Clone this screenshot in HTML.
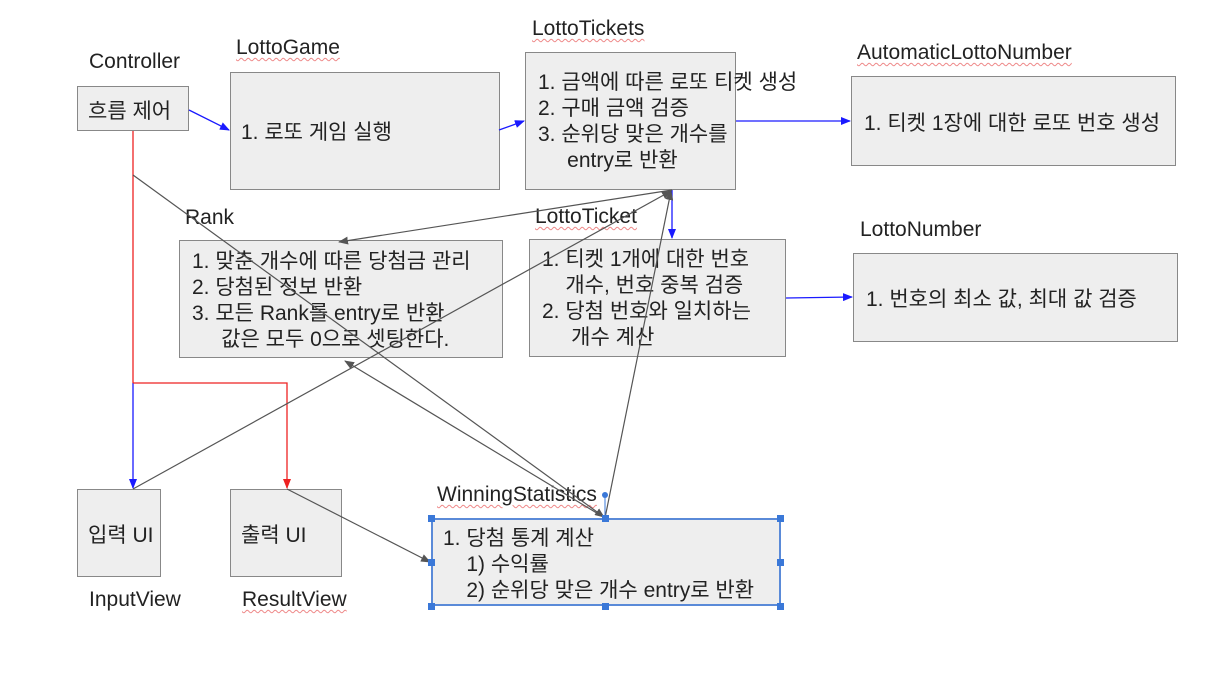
<!DOCTYPE html>
<html><head><meta charset="utf-8"><style>
body{margin:0;background:#fff;width:1222px;height:692px;position:relative;overflow:hidden;font-family:"Liberation Sans","Noto Sans CJK KR",sans-serif;color:#222}
.b{position:absolute;background:#eeeeee;border:1.5px solid #888;box-sizing:border-box;font-size:21px;line-height:26px;white-space:nowrap}
.l{position:absolute;font-size:21px;line-height:24px;white-space:nowrap}
.u{text-decoration:underline wavy #e88;text-decoration-thickness:1px;text-underline-offset:3px}
svg{position:absolute;left:0;top:0}
.h{position:absolute;width:7px;height:7px;background:#3a78d8}
</style></head><body>
<div class="l" style="left:89px;top:50px">Controller</div>
<div class="b" style="left:77px;top:86px;width:112px;height:45px;padding:12px 0 0 10px">흐름 제어</div>
<div class="l u" style="left:236px;top:36px">LottoGame</div>
<div class="b" style="left:230px;top:72px;width:270px;height:118px;padding:47px 0 0 10px">1. 로또 게임 실행</div>
<div class="l u" style="left:532px;top:17px">LottoTickets</div>
<div class="b" style="left:525px;top:52px;width:211px;height:138px;padding:17px 0 0 12px">1. 금액에 따른 로또 티켓 생성<br>2. 구매 금액 검증<br>3. 순위당 맞은 개수를<br>&nbsp;&nbsp;&nbsp;&nbsp;&nbsp;entry로 반환</div>
<div class="l u" style="left:857px;top:41px">AutomaticLottoNumber</div>
<div class="b" style="left:851px;top:76px;width:325px;height:90px;padding:34px 0 0 12px">1. 티켓 1장에 대한 로또 번호 생성</div>
<div class="l" style="left:185px;top:206px">Rank</div>
<div class="b" style="left:179px;top:240px;width:324px;height:118px;padding:8px 0 0 12px">1. 맞춘 개수에 따른 당첨금 관리<br>2. 당첨된 정보 반환<br>3. 모든 Rank를 entry로 반환<br>&nbsp;&nbsp;&nbsp;&nbsp;&nbsp;값은 모두 0으로 셋팅한다.</div>
<div class="l u" style="left:535px;top:205px">LottoTicket</div>
<div class="b" style="left:529px;top:239px;width:257px;height:118px;padding:7px 0 0 12px">1. 티켓 1개에 대한 번호<br>&nbsp;&nbsp;&nbsp;&nbsp;개수, 번호 중복 검증<br>2. 당첨 번호와 일치하는<br>&nbsp;&nbsp;&nbsp;&nbsp;&nbsp;개수 계산</div>
<div class="l" style="left:860px;top:218px">LottoNumber</div>
<div class="b" style="left:853px;top:253px;width:325px;height:89px;padding:33px 0 0 12px">1. 번호의 최소 값, 최대 값 검증</div>
<div class="b" style="left:77px;top:489px;width:84px;height:88px;padding:33px 0 0 10px">입력 UI</div>
<div class="l" style="left:89px;top:588px">InputView</div>
<div class="b" style="left:230px;top:489px;width:112px;height:88px;padding:33px 0 0 10px">출력 UI</div>
<div class="l u" style="left:242px;top:588px">ResultView</div>
<div class="l u" style="left:437px;top:483px">WinningStatistics</div>
<div class="b" style="left:431px;top:518px;width:350px;height:88px;border:2px solid #5a8ad8;padding:6px 0 0 10px">1. 당첨 통계 계산<br>&nbsp;&nbsp;&nbsp;&nbsp;1) 수익률<br>&nbsp;&nbsp;&nbsp;&nbsp;2) 순위당 맞은 개수 entry로 반환</div>
<svg width="1222" height="692">
<defs>
<marker id="ab" markerWidth="10" markerHeight="8" refX="9" refY="4" orient="auto" markerUnits="userSpaceOnUse"><path d="M0,0L10,4L0,8z" fill="#1a1aff"/></marker>
<marker id="ar" markerWidth="10" markerHeight="8" refX="9" refY="4" orient="auto" markerUnits="userSpaceOnUse"><path d="M0,0L10,4L0,8z" fill="#ee2222"/></marker>
<marker id="ag" markerWidth="10" markerHeight="8" refX="9" refY="4" orient="auto" markerUnits="userSpaceOnUse"><path d="M0,0L10,4L0,8z" fill="#555"/></marker>
</defs>
<g stroke="#1a1aff" stroke-width="1.3" fill="none">
<line x1="189" y1="110" x2="229" y2="130" marker-end="url(#ab)"/>
<line x1="499" y1="130" x2="524" y2="121" marker-end="url(#ab)"/>
<line x1="736" y1="121" x2="850" y2="121" marker-end="url(#ab)"/>
<line x1="672" y1="190" x2="672" y2="238" marker-end="url(#ab)"/>
<line x1="786" y1="298" x2="852" y2="297" marker-end="url(#ab)"/>
<line x1="133" y1="383" x2="133" y2="488" marker-end="url(#ab)"/>
</g>
<g stroke="#ee2222" stroke-width="1.3" fill="none">
<line x1="133" y1="131" x2="133" y2="383"/>
<polyline points="133,383 287,383 287,488" marker-end="url(#ar)"/>
</g>
<g stroke="#555" stroke-width="1.2" fill="none">
<line x1="133" y1="175" x2="604" y2="517" marker-end="url(#ag)"/>
<line x1="672" y1="190" x2="339" y2="242" marker-end="url(#ag)"/>
<line x1="133" y1="489" x2="671" y2="191" marker-end="url(#ag)"/>
<line x1="605" y1="518" x2="671" y2="191" marker-end="url(#ag)"/>
<line x1="605" y1="518" x2="345" y2="361" marker-end="url(#ag)"/>
<line x1="287" y1="489" x2="430" y2="562" marker-end="url(#ag)"/>
</g>
<line x1="605" y1="495" x2="605" y2="518" stroke="#3a78d8" stroke-width="1"/>
<circle cx="605" cy="495" r="3" fill="#3a78d8"/>
</svg>
<div class="h" style="left:428px;top:515px"></div><div class="h" style="left:602px;top:515px"></div><div class="h" style="left:777px;top:515px"></div>
<div class="h" style="left:428px;top:559px"></div><div class="h" style="left:777px;top:559px"></div>
<div class="h" style="left:428px;top:603px"></div><div class="h" style="left:602px;top:603px"></div><div class="h" style="left:777px;top:603px"></div>
</body></html>
